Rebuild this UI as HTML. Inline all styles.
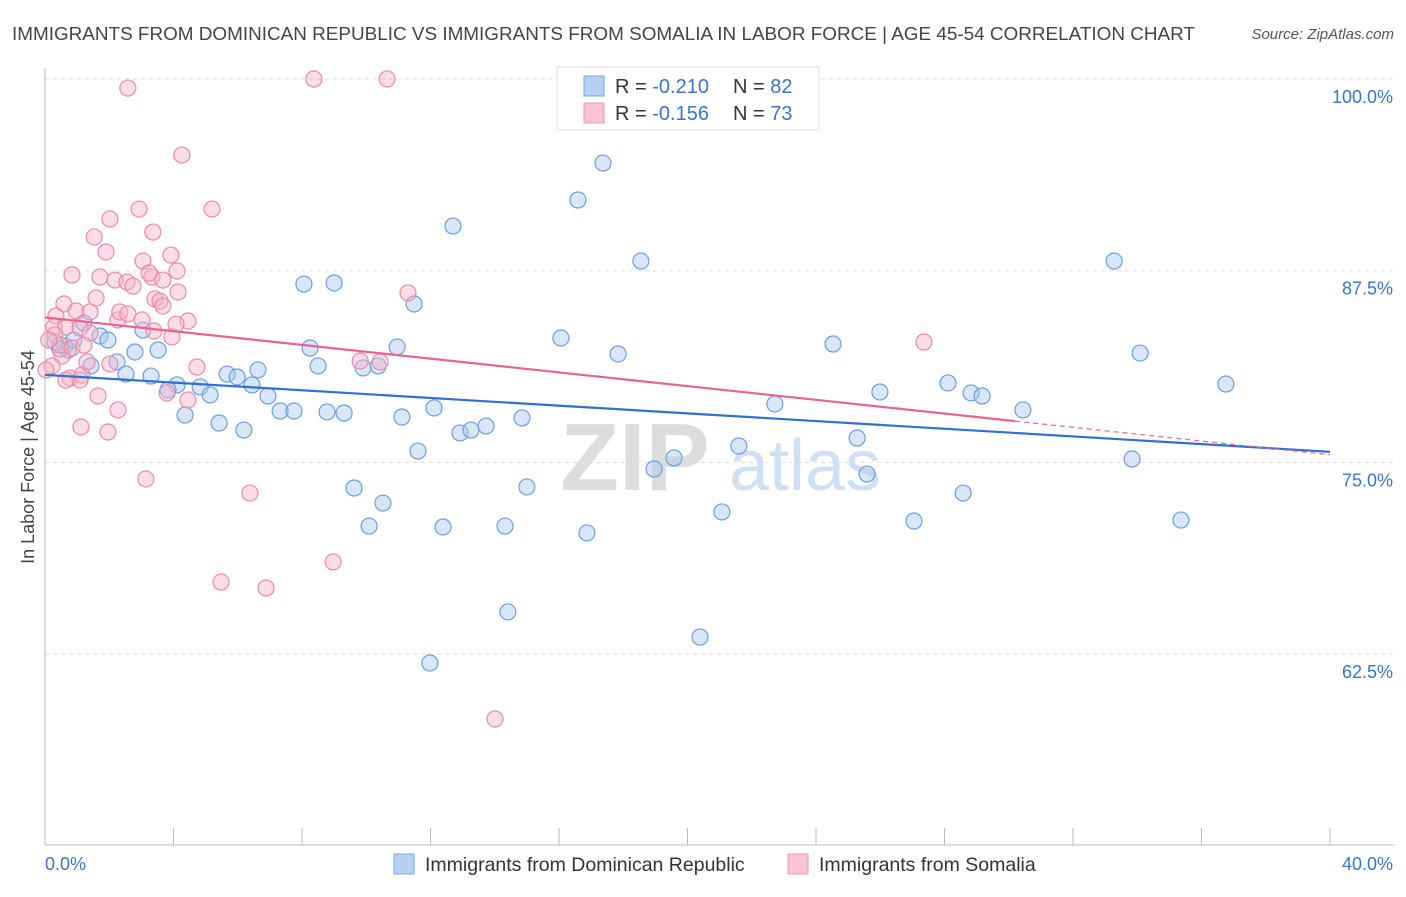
<!DOCTYPE html>
<html><head><meta charset="utf-8"><style>
body{margin:0;background:#fff;font-family:"Liberation Sans",sans-serif;}
svg text{font-family:"Liberation Sans",sans-serif;}
</style></head><body>
<svg id="chart" width="1406" height="892" viewBox="0 0 1406 892" xmlns="http://www.w3.org/2000/svg">
<text x="12" y="40" font-size="18.9" fill="#444">IMMIGRANTS FROM DOMINICAN REPUBLIC VS IMMIGRANTS FROM SOMALIA IN LABOR FORCE | AGE 45-54 CORRELATION CHART</text>
<text x="1394" y="39" font-size="15" fill="#555" font-style="italic" text-anchor="end">Source: ZipAtlas.com</text>
<g>
<text x="635" y="490" font-size="96" fill="#ddd" font-family="Liberation Serif" text-anchor="middle" font-weight="bold">ZIP</text>
<text x="805" y="490" font-size="72" fill="#cfe0f4" text-anchor="middle">atlas</text>
</g>
<g id="grid"></g>
<g id="axes"></g>
<g id="pts"></g>
<g id="lines"></g>
<text transform="translate(34,457) rotate(-90)" font-size="18" fill="#444" text-anchor="middle">In Labor Force | Age 45-54</text>
<g>
<rect x="557" y="67" width="262" height="63" fill="#fff" stroke="#ddd"/>
<rect x="584" y="76" width="20" height="20" fill="#b7d1f3" stroke="#7aa6e0"/>
<rect x="584" y="103" width="20" height="20" fill="#f8c3d3" stroke="#ee9ab5"/>
<text x="615" y="93" font-size="20" fill="#333">R = <tspan fill="#3b73d1">-0.210</tspan></text>
<text x="733" y="93" font-size="20" fill="#333">N = <tspan fill="#3b73d1">82</tspan></text>
<text x="615" y="120" font-size="20" fill="#333">R = <tspan fill="#3b73d1">-0.156</tspan></text>
<text x="733" y="120" font-size="20" fill="#333">N = <tspan fill="#3b73d1">73</tspan></text>
</g>
<g>
<rect x="394" y="854" width="20" height="20" fill="#b7d1f3" stroke="#7aa6e0"/>
<text x="425" y="871" font-size="19.5" fill="#333">Immigrants from Dominican Republic</text>
<rect x="788" y="854" width="20" height="20" fill="#f8c3d3" stroke="#ee9ab5"/>
<text x="819" y="871" font-size="19.5" fill="#333">Immigrants from Somalia</text>
</g>
</svg>
<script>
const blueX=[17.37,16.59,12.70,18.55,33.28,8.06,9.00,11.49,16.06,17.84,24.53,34.09,36.76,8.25,10.96,8.50,9.90,10.37,1.21,1.71,1.96,3.05,3.52,2.80,2.24,1.43,0.62,0.31,0.72,0.90,2.52,3.30,4.11,4.83,5.14,3.83,5.67,5.98,6.63,6.44,6.94,7.32,7.75,8.78,9.31,4.36,5.42,6.19,11.11,12.11,12.92,13.26,13.73,14.85,11.61,9.62,10.52,10.09,12.39,14.32,15.00,16.87,18.96,19.58,21.60,21.07,22.72,25.28,25.59,25.99,28.11,28.83,29.17,30.44,27.05,28.58,33.84,35.36,14.41,20.39,11.98,0.47];
const blueY=[94.52,92.11,90.41,88.13,88.13,86.63,86.70,85.33,83.11,82.07,82.72,82.13,80.11,82.46,82.53,81.29,81.16,81.29,84.09,83.24,82.98,83.63,82.33,82.20,81.55,81.29,82.59,82.85,82.33,82.98,80.76,80.63,80.05,79.92,79.40,79.72,80.76,80.57,81.03,80.05,79.33,78.35,78.35,78.29,78.22,78.09,77.57,77.11,77.96,78.55,76.92,77.11,77.37,77.90,75.74,73.33,72.35,70.85,70.79,70.85,73.40,70.40,74.57,75.29,76.07,71.77,78.81,76.59,74.24,79.59,80.18,79.53,79.33,78.42,71.18,73.00,75.22,71.24,65.25,63.61,61.92,82.39];
const pinkX=[2.58,8.37,10.65,4.26,5.20,2.93,2.02,3.36,1.53,1.90,3.92,3.05,0.84,1.71,2.18,2.55,3.33,2.74,4.11,3.24,3.67,4.14,1.59,0.59,0.34,0.97,1.40,2.27,2.33,2.58,3.42,3.58,3.67,3.02,4.45,4.08,0.28,0.65,1.09,3.39,3.95,1.40,0.53,0.22,0.03,0.78,1.15,1.09,1.31,2.02,4.73,3.80,4.45,1.65,2.27,1.12,1.96,3.14,6.38,5.48,6.88,8.97,9.81,10.43,11.30,27.36,14.01,0.31,0.47,0.84,0.12,1.21,0.65];
const pinkY=[99.41,100.0,100.0,95.04,91.52,91.52,90.87,90.02,89.70,88.72,88.52,88.13,87.22,87.09,86.89,86.76,87.09,86.50,87.48,87.35,86.89,86.11,85.72,85.33,84.55,84.87,84.81,84.29,84.81,84.68,85.66,85.52,85.20,84.29,84.22,84.02,83.83,83.83,83.76,83.57,83.18,83.44,81.94,81.29,81.03,80.50,80.70,80.37,81.55,81.42,81.22,79.53,79.07,79.33,78.42,77.31,76.98,73.92,73.00,67.20,66.81,68.51,81.61,81.55,86.05,82.85,58.27,83.31,82.65,82.46,82.98,82.65,80.37];
const xTicks=[0,40];
const yTicks=[100,87.5,75,62.5];
const NS="http://www.w3.org/2000/svg";
const X=v=>45+v/40*1285;
const Y=v=>79+(100-v)/12.5*191.7;
function mk(tag,attrs,parent){const e=document.createElementNS(NS,tag);for(const k in attrs)e.setAttribute(k,attrs[k]);parent.appendChild(e);return e;}
const grid=document.getElementById('grid'),axes=document.getElementById('axes'),pts=document.getElementById('pts'),lines=document.getElementById('lines');
yTicks.forEach(t=>{
 const l=mk('line',{x1:45,x2:1395,y1:Y(t),y2:Y(t),stroke:'#ddd','stroke-dasharray':'4 4'},grid);
 
 
 const tx=mk('text',{x:1393,y:Y(t)+24,'font-size':18,fill:'#3b73d1','text-anchor':'end'},axes);
 tx.textContent=t.toFixed(1)+'%';
 
 
});
const ax=mk('line',{x1:45,x2:1395,y1:845,y2:845,stroke:'#bbb'},axes);


const ay=mk('line',{x1:45,x2:45,y1:68,y2:845,stroke:'#bbb'},axes);


for(let i=0;i<=10;i++){
 const tk=mk('line',{x1:X(i*4),x2:X(i*4),y1:828,y2:845,stroke:'#bbb'},axes);
 
 
}
xTicks.forEach((t,i)=>{
 const tx=mk('text',{x:i==0?45:1393,y:870,'font-size':18,fill:'#3b73d1','text-anchor':i==0?'start':'end'},axes);
 tx.textContent=t.toFixed(1)+'%';
 
 
});
function dots(xs,ys,fill,stroke,name){
 xs.forEach((v,i)=>{
  const c=mk('circle',{cx:X(v),cy:Y(ys[i]),r:8,fill:fill,'fill-opacity':0.45,stroke:stroke,'stroke-width':1.2},pts);
  
  
 });
}
dots(blueX,blueY,'#a9c8f0','#6a9fe0','blue-point');
dots(pinkX,pinkY,'#f5b4c8','#ec8aaa','pink-point');
function reg(xs,ys){const n=xs.length;let sx=0,sy=0,sxx=0,sxy=0;for(let i=0;i<n;i++){sx+=xs[i];sy+=ys[i];sxx+=xs[i]*xs[i];sxy+=xs[i]*ys[i];}const b=(n*sxy-sx*sy)/(n*sxx-sx*sx);return [b,(sy-b*sx)/n];}
const [bb,ba]=reg(blueX,blueY),[pb,pa]=reg(pinkX,pinkY);
const bl=mk('line',{x1:X(0),y1:Y(ba),x2:X(40),y2:Y(ba+bb*40),stroke:'#2f6fd8','stroke-width':2.2},lines);


const ps=mk('line',{x1:X(0),y1:Y(pa),x2:X(30.2),y2:Y(pa+pb*30.2),stroke:'#e8648f','stroke-width':2.2},lines);


const pd=mk('line',{x1:X(30.2),y1:Y(pa+pb*30.2),x2:X(40),y2:Y(pa+pb*40),stroke:'#e8648f','stroke-width':1.2,'stroke-dasharray':'5 4'},lines);


</script>
</body></html>
